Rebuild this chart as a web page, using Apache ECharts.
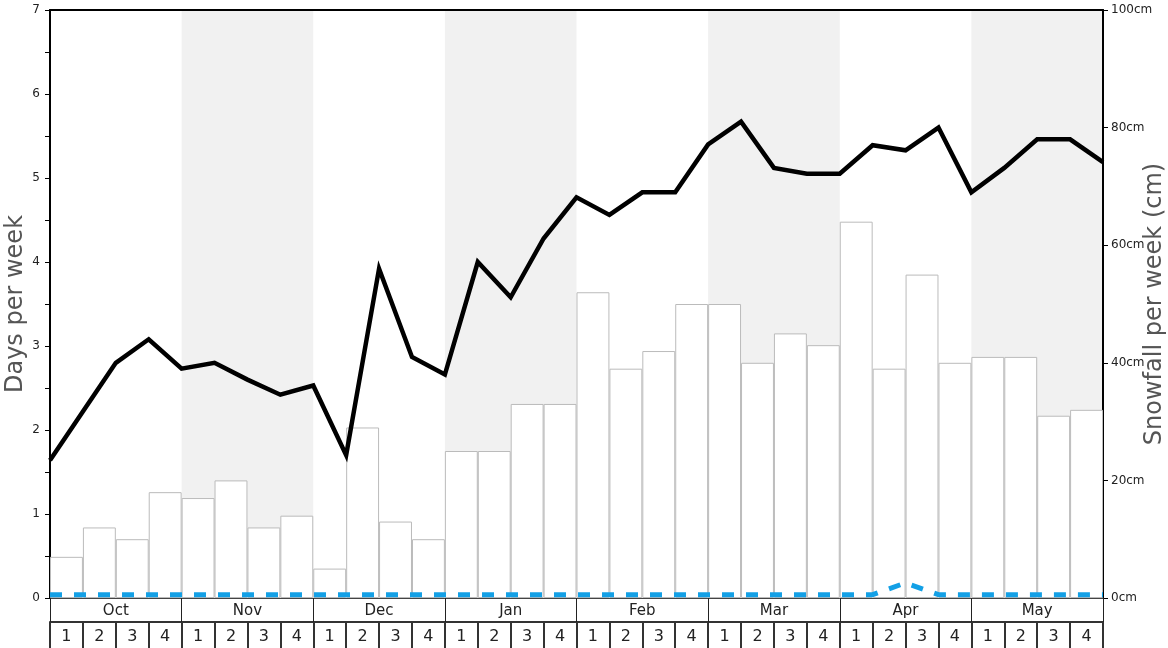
<!DOCTYPE html>
<html>
<head>
<meta charset="utf-8">
<title>Snowfall per week</title>
<script src="https://cdn.jsdelivr.net/npm/echarts@6/dist/echarts.min.js"></script>
<style>
  html, body { margin: 0; padding: 0; background: #fff; }
  #chart { width: 1168px; height: 648px; }
</style>
</head>
<body>
<div id="chart"></div>
<script>
// month / week labels along the bottom
var months = ["Oct", "Nov", "Dec", "Jan", "Feb", "Mar", "Apr", "May"];
var weeks = ["1", "2", "3", "4"];

// snowfall per week (cm), one bar per week
var snowfall = [7, 12, 10, 18, 17, 20, 12, 14, 5, 29, 13, 10, 25, 25, 33, 33,
  52, 39, 42, 50, 50, 40, 45, 43, 64, 39, 55, 40, 41, 41, 31, 32];

// days per week, values at the week edges (33 points)
var snowDays = [1.64, 2.22, 2.8, 3.08, 2.73, 2.8, 2.6, 2.42, 2.53, 1.7, 3.92, 2.87,
  2.66, 4.0, 3.58, 4.28, 4.77, 4.56, 4.83, 4.83, 5.4, 5.67, 5.12, 5.05, 5.05, 5.39,
  5.33, 5.6, 4.83, 5.12, 5.46, 5.46, 5.19];
var rainDays = [0.04, 0.04, 0.04, 0.04, 0.04, 0.04, 0.04, 0.04, 0.04, 0.04, 0.04, 0.04,
  0.04, 0.04, 0.04, 0.04, 0.04, 0.04, 0.04, 0.04, 0.04, 0.04, 0.04, 0.04, 0.04, 0.04,
  0.18, 0.04, 0.04, 0.04, 0.04, 0.04, 0.04];

var leftTicks = { min: 0, max: 7, step: 0.5 };
var rightTicks = { min: 0, max: 100, step: 20 };

var weekCats = [];
months.forEach(function (m) {
  weeks.forEach(function (w) { weekCats.push(w); });
});
var edgeCats = [];
months.forEach(function (m) {
  weeks.forEach(function (w) { edgeCats.push(m + " " + w); });
});
edgeCats.push("end");

var font = "DejaVu Sans";
var myChart = echarts.init(document.getElementById("chart"));
var options = {
  animation: false,
  textStyle: { fontFamily: font },
  grid: { left: 50, right: 65, top: 10, bottom: 50, containLabel: false, outerBoundsMode: "none" },
  xAxis: [
    {
      // week row
      type: "category",
      data: weekCats,
      position: "bottom",
      offset: 24,
      axisLine: { onZero: false, lineStyle: { color: "#333", width: 2 } },
      axisTick: { show: true, interval: 0, length: 26, lineStyle: { color: "#333", width: 2 } },
      axisLabel: { interval: 0, fontSize: 16, color: "#222", margin: 7 },
    },
    {
      // month row + shading
      type: "category",
      data: months,
      position: "bottom",
      offset: 0,
      axisLine: { onZero: false, lineStyle: { color: "#444", width: 1 } },
      axisTick: { show: true, interval: 0, length: 24, lineStyle: { color: "#222", width: 1 } },
      axisLabel: { interval: 0, fontSize: 15, color: "#222", margin: 6 },
      splitArea: {
        show: true,
        interval: 0,
        areaStyle: { color: ["rgba(255,255,255,0)", "#f1f1f1"] },
      },
    },
    {
      // week edges for the lines, drawn as the top border
      type: "category",
      data: edgeCats,
      boundaryGap: false,
      position: "top",
      axisLine: { show: true, onZero: false, lineStyle: { color: "#000", width: 2 } },
      axisTick: { show: false },
      axisLabel: { show: false },
    },
  ],
  yAxis: [
    {
      type: "value",
      position: "left",
      min: leftTicks.min,
      max: leftTicks.max,
      interval: leftTicks.step,
      name: "Days per week",
      nameLocation: "middle",
      nameGap: 22,
      nameMoveOverlap: false,
      nameTextStyle: { fontSize: 24, color: "#555", fontFamily: font },
      axisLine: { show: true, lineStyle: { color: "#000", width: 2 } },
      axisTick: { show: true, length: 5, lineStyle: { color: "#000" } },
      axisLabel: {
        fontSize: 12,
        color: "#222",
        margin: 10,
        formatter: function (v) {
          return v % 1 === 0 ? String(v) : "";
        },
      },
      splitLine: { show: false },
    },
    {
      type: "value",
      position: "right",
      min: rightTicks.min,
      max: rightTicks.max,
      interval: rightTicks.step,
      name: "Snowfall per week (cm)",
      nameLocation: "middle",
      nameGap: 40,
      nameMoveOverlap: false,
      nameTextStyle: { fontSize: 24, color: "#555", fontFamily: font },
      axisLine: { show: true, lineStyle: { color: "#000", width: 2 } },
      axisTick: { show: true, length: 5, lineStyle: { color: "#000" } },
      axisLabel: { fontSize: 12, color: "#222", margin: 8, formatter: "{value}cm" },
      splitLine: { show: false },
    },
  ],
  series: [
    {
      name: "Snowfall",
      type: "bar",
      xAxisIndex: 0,
      yAxisIndex: 1,
      data: snowfall,
      barCategoryGap: "0%",
      itemStyle: { color: "#fff", borderColor: "#bbb", borderWidth: 1 },
      z: 2,
    },
    {
      name: "Rain days",
      type: "line",
      xAxisIndex: 2,
      yAxisIndex: 0,
      data: rainDays,
      symbol: "none",
      lineStyle: { color: "#13a0e6", width: 5, type: [12, 12] },
      z: 3,
    },
    {
      name: "Snow days",
      type: "line",
      xAxisIndex: 2,
      yAxisIndex: 0,
      data: snowDays,
      symbol: "none",
      lineStyle: { color: "#000", width: 4.5, join: "miter", miterLimit: 10 },
      z: 4,
    },
  ],
};
myChart.setOption(options);
</script>
</body>
</html>
